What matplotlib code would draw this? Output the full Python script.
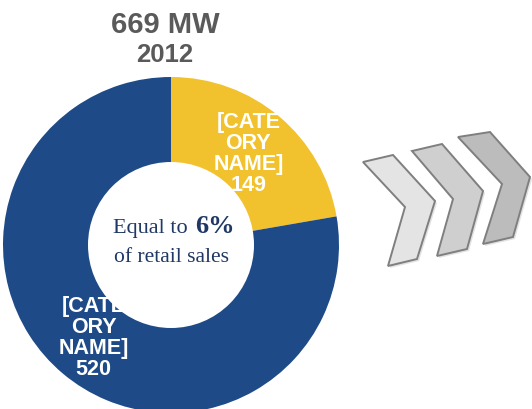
import numpy as np
import matplotlib.pyplot as plt
from matplotlib.patches import Polygon, Circle

# data
categories = ['[CATE\nORY\nNAME]', '[CATE\nORY\nNAME]']
values = [149, 520]
year = '2012'
share_text = '6%'
colors = ['#f2c22e', '#1e4b88']

fig = plt.figure(figsize=(5.32, 4.10), dpi=100)
ax = fig.add_axes([0, 0, 1, 1])

cx, cy, R, r_hole = 171, 164, 168, 83

wedges, texts = ax.pie(values, colors=colors, startangle=90, counterclock=False,
                       center=(cx, cy), radius=R, labels=[f'{c}\n{v}' for c, v in zip(categories, values)],
                       labeldistance=0.715, wedgeprops=dict(linewidth=0),
                       textprops=dict(color='white', fontsize=15.5, fontweight='bold',
                                      family='Liberation Sans', linespacing=1.0))
for t in texts:
    t.set_ha('center')
    t.set_va('center')
    t.set_zorder(3)

# hole drawn over the labels, as in the original
ax.add_patch(Circle((cx, cy), r_hole, facecolor='white', edgecolor='none', zorder=4))
ax.set_xlim(0, 532)
ax.set_ylim(0, 410)
ax.set_aspect('equal')
ax.axis('off')

# title
ax.text(165, 410 - 25, f'{sum(values)} MW', ha='center', va='center', fontsize=21,
        fontweight='bold', color='#5a5a5a', family='Liberation Sans')
ax.text(165, 410 - 55, year, ha='center', va='center', fontsize=18.5,
        fontweight='bold', color='#5a5a5a', family='Liberation Sans')

# centre note
navy = '#1f3864'
ax.text(193, 410 - 233, 'Equal to ', ha='right', va='baseline', fontsize=16,
        color=navy, family='Liberation Serif', zorder=5)
ax.text(195, 410 - 233, share_text, ha='left', va='baseline', fontsize=19,
        fontweight='bold', color=navy, family='Liberation Serif', zorder=5)
ax.text(171, 410 - 262, 'of retail sales', ha='center', va='baseline', fontsize=15.5,
        color=navy, family='Liberation Serif', zorder=5)

# chevrons (decoration)
chevrons = [
    ([(363, 163), (393, 156), (435, 202), (417, 260), (388, 267), (405, 208)], '#e4e4e4'),
    ([(412, 152), (442, 145), (483, 192), (467, 250), (437, 257), (453, 200)], '#cfcfcf'),
    ([(458, 138), (490, 133), (530, 178), (513, 238), (483, 245), (502, 185)], '#bcbcbc'),
]
for pts, fc in chevrons:
    pts = [(x, 410 - y) for x, y in pts]
    shadow = [(x + 2, y - 2) for x, y in pts]
    ax.add_patch(Polygon(shadow, closed=True, facecolor='#e2e2e2', edgecolor='none', zorder=1))
    ax.add_patch(Polygon(pts, closed=True, facecolor=fc, edgecolor='#7f7f7f', linewidth=1.4, zorder=2))

fig.savefig('out.png', dpi=100)
